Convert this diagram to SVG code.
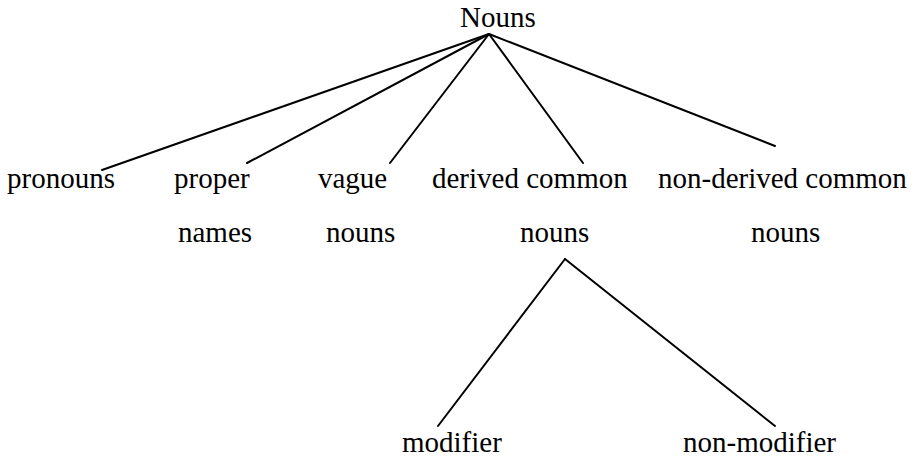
<svg xmlns="http://www.w3.org/2000/svg" width="914" height="461" viewBox="0 0 914 461">
<style>
text{font-family:"Liberation Serif","Times New Roman",serif;font-size:29px;fill:#000}
line{stroke:#000;stroke-width:2;stroke-linecap:round}
</style>
<rect width="914" height="461" fill="#fff"/>
<g id="connectors">
<line x1="489" y1="34" x2="102" y2="170"/>
<line x1="489" y1="34" x2="247" y2="163"/>
<line x1="489" y1="34" x2="390" y2="163"/>
<line x1="489" y1="34" x2="583" y2="163"/>
<line x1="489" y1="34" x2="775" y2="146"/>
<line x1="565" y1="259" x2="438" y2="426"/>
<line x1="565" y1="259" x2="775" y2="426"/>
</g>
<g id="nouns"><text x="460" y="27">Nouns</text></g>
<g id="pronouns"><text x="7" y="188">pronouns</text></g>
<g id="proper-names"><text x="174" y="188">proper</text><text x="178" y="242">names</text></g>
<g id="vague-nouns"><text x="318" y="188">vague</text><text x="326" y="242">nouns</text></g>
<g id="derived-common-nouns"><text x="432" y="188">derived common</text><text x="520" y="242">nouns</text></g>
<g id="non-derived-common-nouns"><text x="658" y="188">non-derived common</text><text x="751" y="242">nouns</text></g>
<g id="modifier"><text x="402" y="452">modifier</text></g>
<g id="non-modifier"><text x="683" y="452">non-modifier</text></g>
</svg>
